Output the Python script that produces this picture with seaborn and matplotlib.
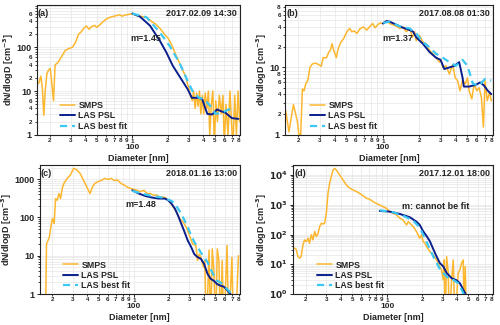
import numpy as np
import pandas as pd
import matplotlib
matplotlib.use("Agg")
import matplotlib.pyplot as plt
import matplotlib.ticker as mticker
import seaborn as sns

# ---------------- data ----------------
# panel (a)
a_smps_d = [16.1, 16.8, 17.3, 17.8, 18.3, 18.9, 19.5, 20.2, 20.8, 21.5, 22.2, 23.5, 25, 27, 29,
            31, 33, 35, 37, 39, 41, 43, 45, 48, 50, 53, 56, 59, 62, 66, 70, 74, 78, 82, 86,
            90, 95, 100, 106, 112, 118, 125, 132, 140, 148, 156, 164, 172, 180, 190,
            200, 210, 220, 232, 245, 258, 270, 282, 292, 300, 310, 322, 330, 340, 350,
            360, 370, 380, 392, 402, 414, 428, 440, 452, 466, 480, 495, 508, 525, 545,
            565, 585, 600, 620, 645, 670, 690, 710, 735, 760, 785, 810]
a_smps_y = [15, 22, 12, 2.8, 10, 25, 30, 33, 15, 6, 40, 45, 60, 85, 95,
            100, 130, 200, 230, 280, 310, 260, 300, 320, 290, 330, 380, 430, 470, 500,
            520, 540, 560, 520, 550, 560, 580, 580, 560, 530, 520, 500, 480, 430, 380,
            350, 310, 270, 230, 190, 165, 130, 100, 70, 50, 38, 28, 22, 15, 12,
            8, 6, 10, 4, 9, 4.5, 10, 3, 8, 3, 9, 4, 10, 1, 5, 10, 0.5, 6, 2, 8,
            3, 8, 0.5, 5, 1, 10, 2, 0.5, 8, 1, 10, 2]
a_psl_d = [100, 116, 141, 171, 194, 220, 250, 294, 319, 367, 391, 431, 474, 522, 556, 612, 696, 790]
a_psl_y = [600, 510, 316, 142, 77, 38, 22, 11, 7, 7, 6.4, 3, 2.9, 3.8, 3.5, 3.2, 2.4, 2.3]
a_fit_d = [100, 132, 171, 207, 250, 294, 323, 367, 404, 460, 506, 574, 653, 741]
a_fit_y = [600, 490, 220, 108, 45, 17, 10, 7, 6.5, 4.5, 3, 3.2, 3.8, 3.5]

# panel (b)
b_smps_d = [15.7, 16.7, 18.2, 19.6, 20.2, 20.9, 21.6, 22.3, 23.0, 24.0, 24.9, 26.1, 27.8, 29.5,
            30.9, 32.1, 34.2, 35.7, 36.8, 38.0, 39.2, 41.2, 42.3, 44.5, 47.4, 50.4, 53.0, 55.4,
            57.9, 60.9, 64.9, 69.1, 73.6, 77.3, 82.4, 86.1, 91.6, 95.8, 100.7, 107, 114, 122,
            130, 138, 147, 156, 167, 175, 183, 189, 201, 214, 228, 243, 259, 275, 294, 303,
            313, 333, 355, 378, 397, 415, 434, 456, 480, 501, 517, 544, 569, 598, 625, 653,
            679, 700, 731, 764, 789]
b_smps_y = [2.3, 1.1, 2.8, 1.6, 1.0, 1.0, 4.8, 4.5, 5.7, 6.5, 10, 11.3, 11.6, 11,
            10.4, 14, 14, 17, 18, 22.6, 18, 14, 18, 23, 27, 34, 38, 34,
            35, 32, 38, 40, 36, 40, 45, 39, 44, 46, 45, 49, 45, 43,
            41, 38, 40, 34, 38, 28, 34, 25, 30, 24, 22.6, 18, 16, 14, 12, 13,
            10, 10.6, 8, 11, 7, 6.4, 4.5, 6.4, 5.7, 7, 4.5, 3.4, 5.7, 4.5, 5, 3.6,
            1.3, 6.4, 3.2, 4.3, 3.2]
b_psl_d = [100, 107, 114, 130, 147, 167, 178, 189, 214, 243, 275, 300, 322, 355, 391, 428,
           456, 468, 517, 585, 638, 686, 731, 789]
b_psl_y = [45, 49, 48, 43, 39, 36, 34, 28, 22.6, 17, 14, 13, 9.5, 10, 10.6, 12,
           7.1, 5.2, 5.2, 5.5, 6, 5.4, 4.6, 4.0]
b_fit_d = [100.7, 114, 138, 167, 189, 214, 243, 275, 313, 355, 402, 456, 501, 556, 625, 703, 789]
b_fit_y = [46, 48, 41, 38, 32, 24, 20, 16, 14, 12, 10.6, 13, 10.6, 5.7, 5.4, 6.8, 6.4]

# panel (c)
c_smps_d = [17.4, 17.8, 18.8, 19.4, 20, 20.7, 21.3, 22.0, 22.8, 23.5, 24.3, 25.1, 26.8, 28.5,
            30.4, 32.5, 34.6, 36.9, 39.4, 42.0, 44.2, 46.3, 49.4, 52.6, 56.1, 59.9, 63.9,
            68.1, 72.7, 77.5, 82.7, 88.2, 94.1, 100, 107, 114, 122, 130, 138, 148, 157, 168,
            179, 191, 204, 217, 232, 247, 264, 281, 300, 320, 341, 352, 364, 376, 396, 406,
            420, 442, 456, 471, 487, 503, 520, 537, 555, 573, 592, 631, 652, 695, 718, 741, 791]
c_smps_y = [0.1, 20, 30, 56, 93, 69, 310, 280, 420, 310, 570, 770, 1040, 1270,
            1900, 1730, 1400, 940, 630, 420, 630, 770, 860, 920, 1040, 980, 1040,
            920, 940, 770, 700, 610, 570, 540, 510, 470, 510, 420, 420, 380, 380, 340,
            340, 310, 250, 190, 140, 93, 76, 56, 34, 20, 18.5, 7.5, 11, 9.2, 5, 7.5,
            0.1, 14, 0.1, 15, 4, 0.1, 15, 7.5, 0.1, 7.5, 0.1, 18.5, 0.1, 9, 0.1, 0.1, 10]
c_psl_d = [97, 110, 126, 143, 163, 185, 197, 210, 225, 239, 255, 272, 290, 310, 330, 352,
           376, 401, 428, 456, 487, 520, 555, 592, 631, 673, 718]
c_psl_y = [510, 420, 360, 330, 310, 310, 280, 230, 170, 113, 69, 42, 25, 17, 11, 9.2,
           8.3, 6.1, 3.4, 2.5, 2.2, 1.8, 1.65, 1.55, 1.27, 1.0, 0.8]
c_fit_d = [97, 117, 143, 174, 197, 210, 225, 239, 255, 272, 290, 310, 330, 352, 376, 401,
           428, 456, 487, 520, 555, 592, 631, 673, 718]
c_fit_y = [490, 420, 360, 330, 290, 270, 230, 170, 125, 84, 56, 34, 23, 17, 12, 9.2,
           6.8, 4.5, 3, 2.2, 2, 1.65, 1.35, 1.1, 1.0]

# panel (d)
d_smps_d = [16.0, 16.5, 17.1, 17.7, 18.2, 18.9, 19.5, 20.2, 20.9, 21.5, 22.3, 23.0, 23.8, 24.6,
            25.4, 26.3, 27.2, 28.1, 29.0, 30.0, 31.0, 32.0, 33.1, 34.2, 35.4, 36.6, 39.1,
            41.8, 44.6, 47.7, 50.9, 54.4, 58.1, 62.1, 66.4, 70.9, 75.7, 80.9, 86.5, 92.4,
            98.7, 105, 113, 120, 129, 137, 147, 152, 157, 168, 179, 191, 198, 204, 211, 218,
            233, 249, 266, 284, 294, 304, 310, 316, 325, 336, 342, 359, 371, 383, 409, 423,
            437, 452, 461, 470, 483]
d_smps_y = [35, 32, 18, 16, 18, 45, 66, 58, 75, 51, 98, 66, 126, 86,
            105, 185, 240, 225, 240, 520, 2400, 5200, 8800, 14600, 16700, 14600, 10000,
            6800, 4600, 3600, 3150, 2800, 2400, 2000, 1650, 1530, 1270, 1110, 975, 860,
            760, 590, 520, 460, 350, 310, 210, 270, 240, 185, 125, 75, 98, 58, 51, 40,
            27, 21, 14, 8.4, 6.5, 3.0, 14, 0.1, 18, 5, 0.1, 3, 14, 0.1, 5, 6.5,
            11, 14, 0.1, 8.4, 0.1]
d_psl_d = [86.5, 105, 129, 157, 179, 191, 204, 218, 233, 258, 284, 304, 325, 359, 396, 423, 452, 477]
d_psl_y = [620, 590, 490, 380, 270, 210, 130, 90, 60, 24, 11, 8.5, 5.1, 3.4, 2.9, 2.3, 1.4, 0.95]
d_fit_d = [86.5, 113, 137, 168, 191, 219, 250, 281, 304, 336, 371, 409, 438, 460]
d_fit_y = [650, 560, 430, 290, 170, 55, 18, 7.5, 5.1, 3.4, 3.0, 2.3, 1.4, 0.9]

panel_labels = ["(a)", "(b)", "(c)", "(d)"]
dates = ["2017.02.09 14:30", "2017.08.08 01:30", "2018.01.16 13:00", "2017.12.01 18:00"]
m_texts = ["m=1.45", "m=1.37", "m=1.48", "m: cannot be fit"]
m_pos = [(97, 160), (100, 27), (84, 220), (134, 850)]
series_names = ["SMPS", "LAS PSL", "LAS best fit"]

# ---------------- style ----------------
sns.set_theme(style="whitegrid")
plt.rcParams['font.family'] = ['Liberation Sans', 'DejaVu Sans']
plt.rcParams['font.weight'] = 'bold'
plt.rcParams['axes.labelweight'] = 'bold'
plt.rcParams['mathtext.default'] = 'bf'

C_SMPS = "#FDB72F"
C_PSL = "#0B1F8C"
C_FIT = "#3CC8F4"

W, H = 500, 325
fig = plt.figure(figsize=(5.0, 3.25), dpi=100)

# pixel rectangles: x0, x1, ytop, ybot
rects = [(36.7, 240, 5, 134.7), (285, 493, 5, 134.7),
         (39.5, 240, 165, 294), (293, 493, 165, 294)]
ylims = [(1, 940), (1, 85), (1, 2330), (1, 21700)]
minor_show = [{2, 4, 6}, {2, 4, 6, 8}, set(), set()]
ylab_x = [-0.104, -0.075, -0.125, -0.118]
leg_x = [0.115, 0.12, 0.117, 0.12]

data = [
    (a_smps_d, a_smps_y, a_psl_d, a_psl_y, a_fit_d, a_fit_y),
    (b_smps_d, b_smps_y, b_psl_d, b_psl_y, b_fit_d, b_fit_y),
    (c_smps_d, c_smps_y, c_psl_d, c_psl_y, c_fit_d, c_fit_y),
    (d_smps_d, d_smps_y, d_psl_d, d_psl_y, d_fit_d, d_fit_y),
]


def mantissa(v):
    e = np.floor(np.log10(v) + 1e-9)
    return int(round(v / 10 ** e))


MINOR_LEN, MINOR_PAD = 1.6, 0.6
for i in range(4):
    x0, x1, yt, yb = rects[i]
    ax = fig.add_axes([x0 / W, 1 - yb / H, (x1 - x0) / W, (yb - yt) / H])
    ax.set_xscale('log')
    ax.set_yscale('log', nonpositive='clip')
    sd, sy, pd_, py, fd, fy = data[i]
    df_s = pd.DataFrame({"d": sd, "v": sy})
    df_p = pd.DataFrame({"d": pd_, "v": py})
    df_f = pd.DataFrame({"d": fd, "v": fy})
    sns.lineplot(data=df_s, x="d", y="v", ax=ax, color=C_SMPS, lw=1.1, sort=False,
                 estimator=None, label=series_names[0], zorder=2)
    sns.lineplot(data=df_p, x="d", y="v", ax=ax, color=C_PSL, lw=1.4, sort=False,
                 estimator=None, label=series_names[1], zorder=3)
    sns.lineplot(data=df_f, x="d", y="v", ax=ax, color=C_FIT, lw=1.6, sort=False,
                 estimator=None, label=series_names[2], zorder=4, linestyle=(0, (3.2, 2.2)))
    ax.set_xlim(15.5, 815)
    ax.set_ylim(*ylims[i])

    # grid & spines
    ax.grid(True, which='both', color='#e6e6e6', lw=0.5)
    for s in ax.spines.values():
        s.set_color('#222222')
        s.set_linewidth(0.8)

    # x ticks: digit labels on every tick, full decade value below
    ax.xaxis.set_major_locator(mticker.LogLocator(base=10))
    ax.xaxis.set_minor_locator(mticker.LogLocator(base=10, subs=np.arange(2, 10)))
    ax.xaxis.set_major_formatter(mticker.FuncFormatter(lambda v, p: "%d" % round(v)))
    ax.xaxis.set_minor_formatter(mticker.FuncFormatter(lambda v, p: "%d" % mantissa(v)))
    ax.tick_params(axis='x', which='major', bottom=True, direction='out', length=2.2,
                   width=0.7, labelsize=6.0, pad=4.6, color='#222222')
    ax.tick_params(axis='x', which='minor', bottom=True, direction='out', length=MINOR_LEN,
                   width=0.6, labelsize=4.5, pad=MINOR_PAD, color='#222222')
    ax.annotate("1", xy=(100, 0), xycoords=('data', 'axes fraction'),
                xytext=(0, -(MINOR_LEN + MINOR_PAD) - 0.6), textcoords='offset points',
                ha='center', va='top', fontsize=4.5)

    # y ticks
    ax.yaxis.set_major_locator(mticker.LogLocator(base=10))
    ax.yaxis.set_minor_locator(mticker.LogLocator(base=10, subs=np.arange(2, 10)))
    if i == 3:
        ax.yaxis.set_major_formatter(mticker.FuncFormatter(
            lambda v, p: r"$10^{%d}$" % int(round(np.log10(v)))))
    else:
        ax.yaxis.set_major_formatter(mticker.FuncFormatter(lambda v, p: "%d" % round(v)))
    show = minor_show[i]
    ax.yaxis.set_minor_formatter(mticker.FuncFormatter(
        lambda v, p, show=show: ("%d" % mantissa(v)) if mantissa(v) in show else ""))
    ax.tick_params(axis='y', which='major', left=True, direction='out', length=2.2,
                   width=0.7, labelsize=6.5, pad=1.5, color='#222222')
    ax.tick_params(axis='y', which='minor', left=True, direction='out', length=1.5,
                   width=0.6, labelsize=4.5, pad=1.5, color='#222222')

    # labels
    ax.set_xlabel("Diameter [nm]", fontsize=6.5)
    ax.xaxis.set_label_coords(0.5, -0.145)
    ax.set_ylabel("dN/dlogD [cm$^{-3}$]", fontsize=6.5)
    ax.yaxis.set_label_coords(ylab_x[i], 0.5)

    ax.text(0.006, 0.935, panel_labels[i], transform=ax.transAxes, ha='left', va='center',
            fontsize=6.5)
    ax.text(0.985, 0.935, dates[i], transform=ax.transAxes, ha='right', va='center',
            fontsize=6.5)
    ax.text(m_pos[i][0], m_pos[i][1], m_texts[i], ha='left', va='center', fontsize=6.5)

    ax.legend(loc='lower left', bbox_to_anchor=(leg_x[i], 0.03), frameon=False,
              fontsize=6.3, handlelength=1.7, handletextpad=0.4, labelspacing=0.15,
              borderpad=0, borderaxespad=0)

fig.savefig("out.png", dpi=100)
